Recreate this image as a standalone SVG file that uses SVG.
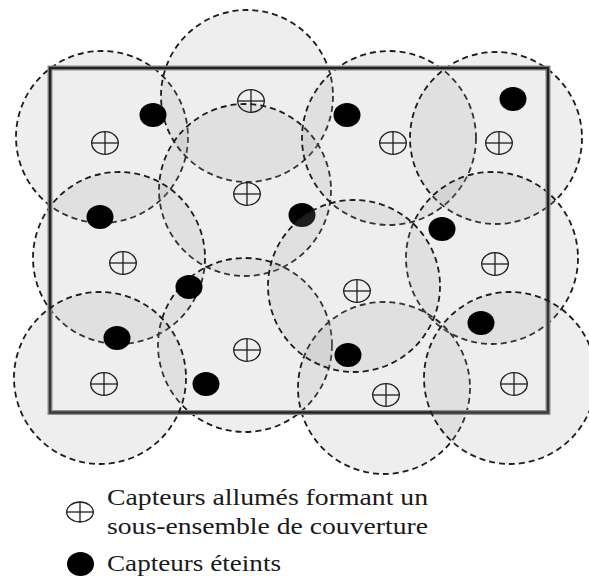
<svg xmlns="http://www.w3.org/2000/svg" width="589" height="577" viewBox="0 0 589 577">
  <style>
    .zone { fill: #9e9e9e; fill-opacity: 0.18; stroke: #1c1c1c; stroke-width: 1.8; stroke-dasharray: 6 4; }
    .on ellipse { fill: none; stroke: #1e1e1e; stroke-width: 1.3; }
    .on line { stroke: #1e1e1e; stroke-width: 1.3; }
    .off { fill: #000; }
  </style>
  <defs>
    <g id="sym-on" class="on">
      <ellipse cx="0" cy="0" rx="13.3" ry="11.3"/>
      <line x1="-13.3" y1="0" x2="13.3" y2="0"/>
      <line x1="0" y1="-11.3" x2="0" y2="11.3"/>
    </g>
  </defs>

  <rect width="589" height="577" fill="#ffffff"/>

  <!-- coverage zones of the active sensors -->
  <g id="zones">
    <circle class="zone" cx="102" cy="137" r="86"/>
    <circle class="zone" cx="247" cy="96" r="86"/>
    <circle class="zone" cx="245" cy="190" r="86"/>
    <circle class="zone" cx="389" cy="138" r="87"/>
    <circle class="zone" cx="496" cy="138" r="86"/>
    <circle class="zone" cx="119" cy="258" r="86"/>
    <circle class="zone" cx="492" cy="258" r="86"/>
    <circle class="zone" cx="245" cy="345" r="87"/>
    <circle class="zone" cx="384" cy="388" r="86"/>
    <!-- this sleeping sensor sits under the next zone -->
    <ellipse id="off-5" class="off" cx="302" cy="215" rx="13.5" ry="12"/>
    <circle class="zone" cx="354" cy="286" r="86"/>
  </g>

  <!-- monitored area -->
  <g id="area">
    <rect x="50" y="68" width="498" height="344.5" fill="none" stroke="#8a8a8a" stroke-width="5"/>
    <rect x="50" y="68" width="498" height="344.5" fill="none" stroke="#222222" stroke-width="2.4"/>
  </g>

  <g id="zones-front">
    <circle class="zone" cx="100" cy="378" r="86"/>
    <circle class="zone" cx="510" cy="378" r="86"/>
  </g>

  <!-- sensors switched on -->
  <g id="sensors-on">
    <use href="#sym-on" x="105" y="143"/>
    <use href="#sym-on" x="251" y="101"/>
    <use href="#sym-on" x="247" y="194"/>
    <use href="#sym-on" x="393" y="143"/>
    <use href="#sym-on" x="499" y="143"/>
    <use href="#sym-on" x="123" y="263"/>
    <use href="#sym-on" x="357" y="291"/>
    <use href="#sym-on" x="495" y="264"/>
    <use href="#sym-on" x="247" y="350"/>
    <use href="#sym-on" x="104" y="384"/>
    <use href="#sym-on" x="386" y="395"/>
    <use href="#sym-on" x="514" y="384"/>
  </g>

  <!-- sensors switched off -->
  <g id="sensors-off">
    <ellipse class="off" cx="153" cy="115" rx="13.5" ry="12"/>
    <ellipse class="off" cx="347" cy="115" rx="13.5" ry="12"/>
    <ellipse class="off" cx="513" cy="99" rx="13.5" ry="12"/>
    <ellipse class="off" cx="100" cy="217" rx="13.5" ry="12"/>
    <ellipse class="off" cx="442" cy="229" rx="13.5" ry="12"/>
    <ellipse class="off" cx="189" cy="287" rx="13.5" ry="12"/>
    <ellipse class="off" cx="117" cy="338" rx="13.5" ry="12"/>
    <ellipse class="off" cx="206" cy="384" rx="13.5" ry="12"/>
    <ellipse class="off" cx="348" cy="355" rx="13.5" ry="12"/>
    <ellipse class="off" cx="481" cy="323" rx="13.5" ry="12"/>
  </g>

  <!-- legend -->
  <g id="legend">
    <g class="on">
      <ellipse cx="80" cy="512" rx="13.3" ry="10"/>
      <line x1="66.7" y1="512" x2="93.3" y2="512"/>
      <line x1="80" y1="502" x2="80" y2="522"/>
    </g>
    <text x="107" y="504.5" font-family="Liberation Serif, serif" font-size="23.5" fill="#1a1a1a" textLength="321" lengthAdjust="spacingAndGlyphs">Capteurs allumés formant un</text>
    <text x="107" y="533.5" font-family="Liberation Serif, serif" font-size="23.5" fill="#1a1a1a" textLength="321" lengthAdjust="spacingAndGlyphs">sous-ensemble de couverture</text>
    <ellipse class="off" cx="80.5" cy="564" rx="13.5" ry="12"/>
    <text x="107" y="571" font-family="Liberation Serif, serif" font-size="23.5" fill="#1a1a1a" textLength="174" lengthAdjust="spacingAndGlyphs">Capteurs éteints</text>
  </g>
</svg>
